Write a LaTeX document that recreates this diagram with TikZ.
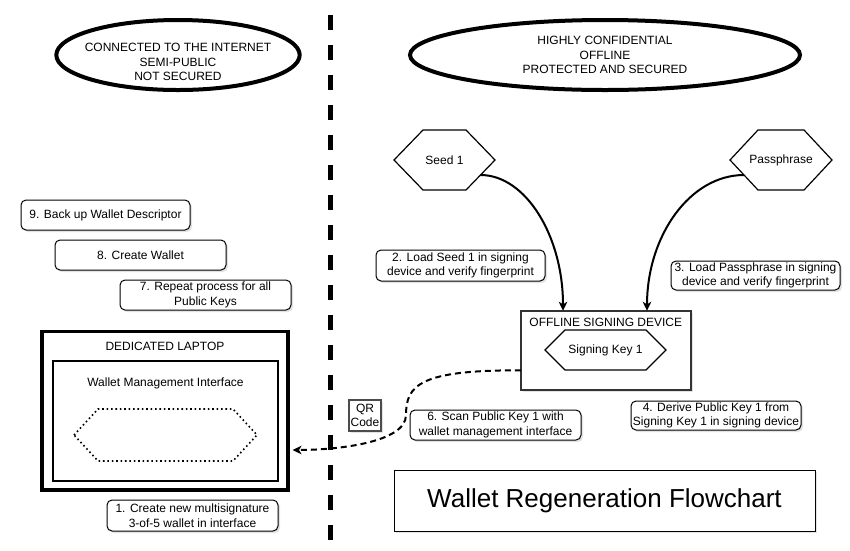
\documentclass[tikz,border=0pt]{standalone}
\usepackage{fontspec}
\setmainfont{Liberation Sans}
\usetikzlibrary{arrows.meta,shadows,calc,shapes.geometric}
\newcommand{\myhexpath}[3]{%
  \draw[#3] (#1.west) -- ([xshift=#2]#1.north west) -- ([xshift=-#2]#1.north east)
    -- (#1.east) -- ([xshift=-#2]#1.south east) -- ([xshift=#2]#1.south west) -- cycle;}
\tikzset{
  base/.style={font=\fontsize{12}{14.4}\selectfont, inner sep=0pt, outer sep=0pt, align=center},
  zone/.style={draw, ellipse, line width=4pt, inner sep=0pt, outer sep=0pt},
  note/.style={base, draw, rounded corners=5pt, fill=white, line width=1pt,
    drop shadow={shadow xshift=2pt, shadow yshift=-2pt, opacity=0.22}},
  boxshadow/.style={drop shadow={shadow xshift=2pt, shadow yshift=-2pt, opacity=0.22}},
  conn/.style={line width=2pt, -{Stealth[length=9pt,width=8.5pt,inset=2.5pt]}},
  dconn/.style={line width=2pt, dash pattern=on 6pt off 4pt, -{Stealth[length=9pt,width=8.5pt,inset=2.5pt]}},
  hexlabel/.style={base},
}
\begin{document}
\begin{tikzpicture}[x=1pt,y=-1pt]
\useasboundingbox[fill=white] (0,0) rectangle (850,550);

% divider
\coordinate (divtop) at (330,15);
\coordinate (divbot) at (330,540);
\draw[line width=5pt, dash pattern=on 15pt off 15pt] (divtop) -- (divbot);

% zones
\node[zone, minimum width=243.4pt, minimum height=70pt] (netzone) at (178,55) {};
\node[base] (nettext) at (178,62) {CONNECTED TO THE INTERNET\\SEMI-PUBLIC\\NOT SECURED};
\node[zone, minimum width=390pt, minimum height=70pt] (offzone) at (605,55) {};
\node[base] (offtext) at (605,55) {HIGHLY CONFIDENTIAL\\OFFLINE\\PROTECTED AND SECURED};

% hexagons
\node[hexlabel, minimum width=101pt, minimum height=60pt] (seed) at (444.5,160) {Seed 1};
\myhexpath{seed}{29pt}{line width=1.2pt}
\node[hexlabel, minimum width=102pt, minimum height=60pt] (pass) at (781,160) {Passphrase};
\myhexpath{pass}{28pt}{line width=1.2pt}

% offline signing device
\node[base, draw=black!80, line width=2pt, fill=white, boxshadow, minimum width=170pt, minimum height=79pt] (osd) at (605.8,350.3) {};
\node[base] (osdtext) at (605.8,322) {OFFLINE SIGNING DEVICE};
\node[hexlabel, minimum width=121pt, minimum height=40pt] (skey) at (605.5,350) {Signing Key 1};
\myhexpath{skey}{20pt}{line width=1.2pt}

% laptop
\node[base, draw, line width=3.5pt, minimum width=246pt, minimum height=158.7pt] (laptop) at (165,410.7) {};
\node[base] (laptoptext) at (165,346) {DEDICATED LAPTOP};
\node[base, draw, line width=2pt, minimum width=225pt, minimum height=120pt] (wmi) at (165.5,421) {};
\node[base] (wmitext) at (165.5,383) {Wallet Management Interface};
\node[base, minimum width=183pt, minimum height=52pt] (wmhex) at (165.5,435) {};
\myhexpath{wmhex}{24pt}{line width=1.6pt, dash pattern=on 1.6pt off 2.8pt}

% QR
\node[base, draw=black!70, line width=2pt, fill=white, boxshadow, minimum width=32pt, minimum height=31pt] (qr) at (365,415.5) {QR\\Code};

% notes
\node[note, minimum width=169pt, minimum height=30pt] (n9) at (105.5,215) {9. Back up Wallet Descriptor};
\node[note, minimum width=171pt, minimum height=30pt] (n8) at (140.5,255) {8. Create Wallet};
\node[note, minimum width=171pt, minimum height=30pt] (n7) at (205.5,295) {7. Repeat process for all\\Public Keys};
\node[note, minimum width=171pt, minimum height=31pt] (n1) at (192.5,515.5) {1. Create new multisignature\\3-of-5 wallet in interface};
\node[note, minimum width=169pt, minimum height=31pt] (n2) at (460.5,265.5) {2. Load Seed 1 in signing\\device and verify fingerprint};
\node[note, minimum width=169pt, minimum height=29pt] (n3) at (755.5,275.5) {3. Load Passphrase in signing\\device and verify fingerprint};
\node[note, minimum width=170pt, minimum height=29pt] (n4) at (716,415.5) {4. Derive Public Key 1 from\\Signing Key 1 in signing device};
\node[note, minimum width=171pt, minimum height=30pt] (n6) at (495.5,425) {6. Scan Public Key 1 with\\wallet management interface};

% title
\node[base, draw, line width=1pt, fill=white, boxshadow, minimum width=421pt, minimum height=61pt, font=\fontsize{26}{30}\selectfont] (title) at (604.5,500.5) {Wallet Regeneration Flowchart};

% connectors
\draw[conn] ($(seed.east)+(-14.5,15)$) .. controls +(45,0) and +(0,-75) .. ($(osd.north)+(-42.8,0)$);
\draw[conn] ($(pass.west)+(14,15)$) .. controls +(-54,0) and +(0,-75) .. ($(osd.north)+(41.2,0)$);
\draw[dconn] ($(osd.west)+(0,20)$) .. controls (420,370) and (406,385) .. (406,415)
   .. controls (406,443) and (335,450) .. ($(laptop.east)+(4.5,39.3)$);
\end{tikzpicture}
\end{document}
